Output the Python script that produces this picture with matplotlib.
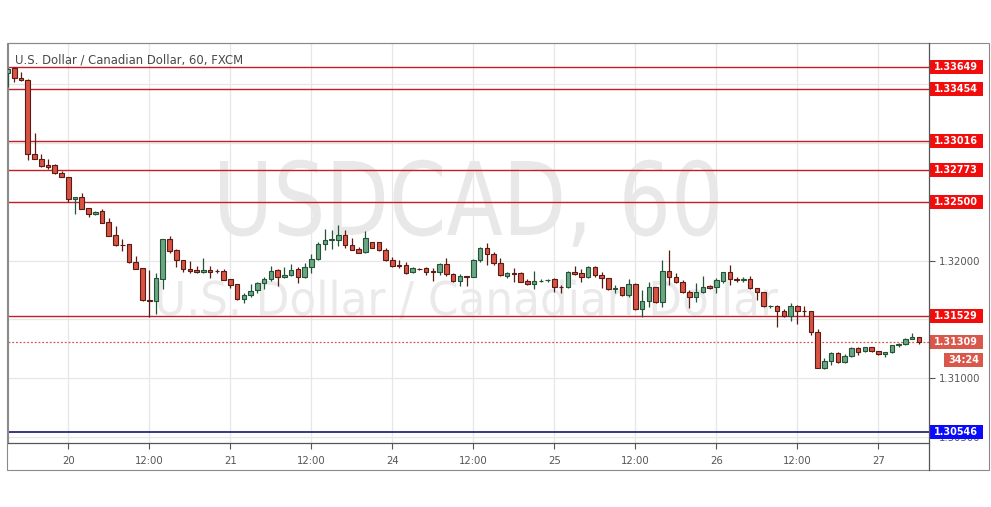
import matplotlib
matplotlib.use('Agg')
import matplotlib.pyplot as plt
import numpy as np
from matplotlib.patches import Rectangle, PathPatch
from matplotlib.lines import Line2D
from matplotlib.textpath import TextPath
from matplotlib.font_manager import FontProperties
from matplotlib.transforms import Affine2D, blended_transform_factory

# ---------------- data (hourly USDCAD candles) ----------------
opens = [1.33591, 1.33634, 1.33549, 1.33534, 1.32903, 1.32865, 1.32812, 1.32809, 1.32741, 1.32707,
         1.32520, 1.32537, 1.32444, 1.32395, 1.32421, 1.32325, 1.32214, 1.32134, 1.32138, 1.31985,
         1.31934, 1.31667, 1.31656, 1.31845, 1.32180, 1.32089, 1.32002, 1.31930, 1.31922, 1.31900,
         1.31919, 1.31911, 1.31908, 1.31843, 1.31798, 1.31670, 1.31704, 1.31749, 1.31806, 1.31840,
         1.31917, 1.31857, 1.31877, 1.31925, 1.31857, 1.31947, 1.32013, 1.32138, 1.32172, 1.32177,
         1.32214, 1.32129, 1.32098, 1.32070, 1.32155, 1.32155, 1.32089, 1.32002, 1.31962, 1.31962,
         1.31900, 1.31928, 1.31934, 1.31911, 1.31905, 1.31968, 1.31883, 1.31826, 1.31868, 1.31862,
         1.32004, 1.32104, 1.32053, 1.31976, 1.31871, 1.31891, 1.31891, 1.31826, 1.31798, 1.31828,
         1.31832, 1.31840, 1.31777, 1.31772, 1.31905, 1.31891, 1.31857, 1.31947, 1.31877, 1.31849,
         1.31755, 1.31772, 1.31704, 1.31800, 1.31590, 1.31658, 1.31772, 1.31645, 1.31913, 1.31857,
         1.31820, 1.31730, 1.31687, 1.31730, 1.31783, 1.31772, 1.31828, 1.31900, 1.31840, 1.31837,
         1.31840, 1.31764, 1.31730, 1.31610, 1.31613, 1.31568, 1.31528, 1.31616, 1.31573, 1.31571,
         1.31390, 1.31089, 1.31148, 1.31211, 1.31135, 1.31188, 1.31254, 1.31228, 1.31262, 1.31231,
         1.31203, 1.31220, 1.31279, 1.31290, 1.31333, 1.31347]
highs = [1.33636, 1.33645, 1.33605, 1.33540, 1.33086, 1.32903, 1.32860, 1.32818, 1.32761, 1.32712,
         1.32544, 1.32576, 1.32446, 1.32425, 1.32438, 1.32359, 1.32296, 1.32183, 1.32140, 1.32038,
         1.31936, 1.31919, 1.31891, 1.32183, 1.32211, 1.32100, 1.32004, 1.31993, 1.31956, 1.32019,
         1.31956, 1.31925, 1.31930, 1.31843, 1.31800, 1.31721, 1.31800, 1.31820, 1.31857, 1.31953,
         1.31925, 1.31942, 1.31968, 1.31942, 1.31981, 1.32053, 1.32160, 1.32268, 1.32259, 1.32302,
         1.32259, 1.32189, 1.32117, 1.32251, 1.32157, 1.32160, 1.32104, 1.32032, 1.32004, 1.31990,
         1.31947, 1.31936, 1.31947, 1.31934, 1.31981, 1.32024, 1.31891, 1.31883, 1.31871, 1.32013,
         1.32112, 1.32149, 1.32075, 1.32019, 1.31905, 1.31934, 1.31905, 1.31843, 1.31911, 1.31843,
         1.31843, 1.31849, 1.31792, 1.31911, 1.31956, 1.31928, 1.31956, 1.31956, 1.31905, 1.31854,
         1.31792, 1.31777, 1.31843, 1.31806, 1.31749, 1.31820, 1.31777, 1.32004, 1.32089, 1.31896,
         1.31834, 1.31749, 1.31806, 1.31868, 1.31792, 1.31849, 1.31905, 1.31962, 1.31857, 1.31862,
         1.31868, 1.31766, 1.31735, 1.31622, 1.31622, 1.31585, 1.31641, 1.31622, 1.31616, 1.31573,
         1.31415, 1.31169, 1.31225, 1.31225, 1.31203, 1.31267, 1.31267, 1.31267, 1.31265, 1.31233,
         1.31225, 1.31284, 1.31296, 1.31344, 1.31386, 1.31352]
lows = [1.33477, 1.33520, 1.33530, 1.32854, 1.32860, 1.32795, 1.32775, 1.32735, 1.32706, 1.32500,
        1.32395, 1.32435, 1.32372, 1.32385, 1.32319, 1.32208, 1.32123, 1.32083, 1.31979, 1.31925,
        1.31656, 1.31517, 1.31545, 1.31755, 1.32066, 1.31947, 1.31902, 1.31891, 1.31896, 1.31891,
        1.31849, 1.31891, 1.31834, 1.31766, 1.31664, 1.31636, 1.31687, 1.31721, 1.31755, 1.31828,
        1.31783, 1.31849, 1.31868, 1.31811, 1.31849, 1.31891, 1.32004, 1.32089, 1.32098, 1.32126,
        1.32104, 1.32089, 1.32064, 1.32066, 1.32106, 1.32083, 1.31998, 1.31947, 1.31934, 1.31883,
        1.31891, 1.31919, 1.31877, 1.31826, 1.31877, 1.31871, 1.31820, 1.31786, 1.31786, 1.31860,
        1.31990, 1.31962, 1.31962, 1.31871, 1.31849, 1.31820, 1.31815, 1.31792, 1.31758, 1.31820,
        1.31817, 1.31730, 1.31721, 1.31769, 1.31877, 1.31820, 1.31849, 1.31862, 1.31769, 1.31749,
        1.31726, 1.31698, 1.31692, 1.31579, 1.31522, 1.31607, 1.31636, 1.31607, 1.31792, 1.31806,
        1.31721, 1.31599, 1.31650, 1.31721, 1.31755, 1.31721, 1.31811, 1.31792, 1.31820, 1.31820,
        1.31758, 1.31664, 1.31607, 1.31594, 1.31432, 1.31522, 1.31488, 1.31458, 1.31528, 1.31367,
        1.31084, 1.31078, 1.31112, 1.31131, 1.31131, 1.31182, 1.31197, 1.31220, 1.31225, 1.31199,
        1.31177, 1.31216, 1.31267, 1.31282, 1.31330, 1.31290]
closes = [1.33625, 1.33549, 1.33532, 1.32903, 1.32865, 1.32801, 1.32797, 1.32741, 1.32707, 1.32520,
          1.32540, 1.32440, 1.32395, 1.32415, 1.32321, 1.32211, 1.32129, 1.32129, 1.31985, 1.31928,
          1.31662, 1.31656, 1.31849, 1.32180, 1.32083, 1.32002, 1.31925, 1.31911, 1.31900, 1.31919,
          1.31905, 1.31908, 1.31837, 1.31794, 1.31670, 1.31704, 1.31743, 1.31806, 1.31843, 1.31913,
          1.31860, 1.31877, 1.31922, 1.31857, 1.31947, 1.32015, 1.32138, 1.32174, 1.32183, 1.32214,
          1.32129, 1.32092, 1.32066, 1.32189, 1.32109, 1.32087, 1.32002, 1.31956, 1.31953, 1.31896,
          1.31934, 1.31927, 1.31902, 1.31902, 1.31968, 1.31883, 1.31826, 1.31868, 1.31862, 1.32004,
          1.32104, 1.32053, 1.31976, 1.31874, 1.31891, 1.31888, 1.31820, 1.31798, 1.31826, 1.31829,
          1.31837, 1.31772, 1.31775, 1.31905, 1.31888, 1.31857, 1.31947, 1.31877, 1.31849, 1.31758,
          1.31769, 1.31704, 1.31800, 1.31590, 1.31658, 1.31772, 1.31645, 1.31913, 1.31857, 1.31820,
          1.31730, 1.31687, 1.31730, 1.31777, 1.31769, 1.31834, 1.31900, 1.31840, 1.31837, 1.31840,
          1.31764, 1.31730, 1.31613, 1.31612, 1.31568, 1.31528, 1.31616, 1.31573, 1.31571, 1.31390,
          1.31089, 1.31148, 1.31211, 1.31135, 1.31188, 1.31254, 1.31225, 1.31262, 1.31228, 1.31203,
          1.31220, 1.31279, 1.31293, 1.31333, 1.31347, 1.31309]

time_tick_bars = [9, 21, 33, 45, 57, 69, 81, 93, 105, 117, 129]
time_tick_labels = ['20', '12:00', '21', '12:00', '24', '12:00', '25', '12:00', '26', '12:00', '27']
red_levels = [1.33649, 1.33454, 1.33016, 1.32773, 1.32500, 1.31529]
blue_level = 1.30546
last_price = 1.31309
countdown = '34:24'
price_ticks = [1.305, 1.310, 1.315, 1.320, 1.325, 1.330, 1.335]
price_tick_labels = ['1.30500', '1.31000', '', '1.32000', '', '', '']
title = 'U.S. Dollar / Canadian Dollar, 60, FXCM'
watermark_main = 'USDCAD, 60'
watermark_sub = 'U.S. Dollar / Canadian Dollar'

# ---------------- figure ----------------
W, H = 991, 507
fig = plt.figure(figsize=(W / 100, H / 100), dpi=100)
fig.patch.set_facecolor('white')

def fx(px):
    return px / W

def fy(py):
    return 1 - py / H

ax = fig.add_axes([fx(8), fy(443), fx(929) - fx(8), fy(43) - fy(443)])
ax.set_facecolor('white')
ax.set_xlim(0.07, 136.5)
ax.set_ylim(1.30449, 1.33849)

# grid
ax.set_yticks(price_ticks)
ax.set_yticklabels(price_tick_labels)
ax.yaxis.tick_right()
ax.set_xticks(time_tick_bars)
ax.set_xticklabels(time_tick_labels)
ax.grid(True, color='#e7e7e7', lw=0.9, zorder=0)
ax.set_axisbelow(True)
ax.tick_params(axis='y', length=4, width=0.8, color='#555555', labelsize=7.3,
               labelcolor='#555555', pad=3, direction='out')
ax.tick_params(axis='x', length=4, width=0.8, color='#555555', labelsize=7.3,
               labelcolor='#555555', pad=5, direction='out')
for s in ['left', 'top']:
    ax.spines[s].set_color('#8a8a8a')
    ax.spines[s].set_linewidth(0.8)
ax.spines['right'].set_visible(False)
ax.spines['bottom'].set_color('#555555')
ax.spines['bottom'].set_linewidth(0.9)

# outer frame and price-axis line
fig.add_artist(Rectangle((fx(7), fy(470)), fx(989) - fx(7), fy(43) - fy(470), fill=False,
                         edgecolor='#8a8a8a', lw=0.8, transform=fig.transFigure))
fig.add_artist(Line2D([fx(929), fx(929)], [fy(470), fy(43)], color='#555555', lw=0.9,
                      transform=fig.transFigure))

# watermarks (text scaled to box)
def watermark(s, left, right, cap_top, baseline, color):
    prop = FontProperties(family='DejaVu Sans')
    tp = TextPath((0, 0), s, size=100, prop=prop)
    bb = tp.get_extents()
    cap = TextPath((0, 0), 'H', size=100, prop=prop).get_extents().y1
    sx = (right - left) / bb.width
    sy = (baseline - cap_top) / cap
    tr = (Affine2D().translate(-bb.x0, 0).scale(sx, sy)
          .translate(left, H - baseline).scale(1 / W, 1 / H) + fig.transFigure)
    p = PathPatch(tp, transform=tr, facecolor=color, edgecolor='none', zorder=0.6, clip_on=False)
    ax.add_artist(p)

watermark(watermark_main, 220, 718, 161, 235, '#e8e8e8')
watermark(watermark_sub, 158, 778, 281, 315, '#eaeaea')

# title
t = fig.text(fx(15), fy(60), title, ha='left', va='center', fontsize=9, color='#4a4a4a')
fig.canvas.draw()
w = t.get_window_extent(fig.canvas.get_renderer()).width
t.set_fontsize(9 * 228 / w)

# level lines
for lv in red_levels:
    ax.axhline(lv, color='#c41e28', lw=1.0, zorder=2)
ax.axhline(blue_level, color='#14146e', lw=1.2, zorder=2)
ax.axhline(last_price, color='#d05a4e', lw=0.9, ls=(0, (1.5, 1.5)), zorder=2)

# candles
o = np.array(opens); h = np.array(highs); l = np.array(lows); c = np.array(closes)
x = np.arange(len(o))
up = c >= o
edge = np.where(up, '#225437', '#5b1a13')
fill = np.where(up, '#6ba583', '#d75442')
ax.vlines(x, l, h, colors=edge, lw=0.9, zorder=3)
ax.bar(x, np.maximum(np.abs(c - o), 0.00002), bottom=np.minimum(o, c), width=0.68,
       color=fill, edgecolor=edge, lw=0.8, zorder=4)

# price labels on the axis
trans = blended_transform_factory(ax.transAxes, ax.transData)
axw_px = 921.0
px_price = (1.33849 - 1.30449) / 400.0
box_h = 14 * px_price

def price_box(val, color, text, x0px=0, x1px=54, yoff_px=0):
    yc = val - yoff_px * px_price
    ax.add_patch(Rectangle((1 + x0px / axw_px, yc - box_h / 2), (x1px - x0px) / axw_px, box_h,
                           transform=trans, facecolor=color, edgecolor='none',
                           clip_on=False, zorder=6))
    ax.text(1 + (x0px + x1px) / 2 / axw_px, yc, text, transform=trans, ha='center',
            va='center', color='white', fontsize=6.9, fontweight='bold',
            clip_on=False, zorder=7)

for lv in red_levels:
    price_box(lv, '#f20d0d', f'{lv:.5f}')
price_box(blue_level, '#0a0aff', f'{blue_level:.5f}')
price_box(last_price, '#d9574b', f'{last_price:.5f}')
price_box(last_price, '#d9574b', countdown, x0px=15, x1px=54, yoff_px=18)

fig.savefig('out.png', dpi=100, facecolor='white')
